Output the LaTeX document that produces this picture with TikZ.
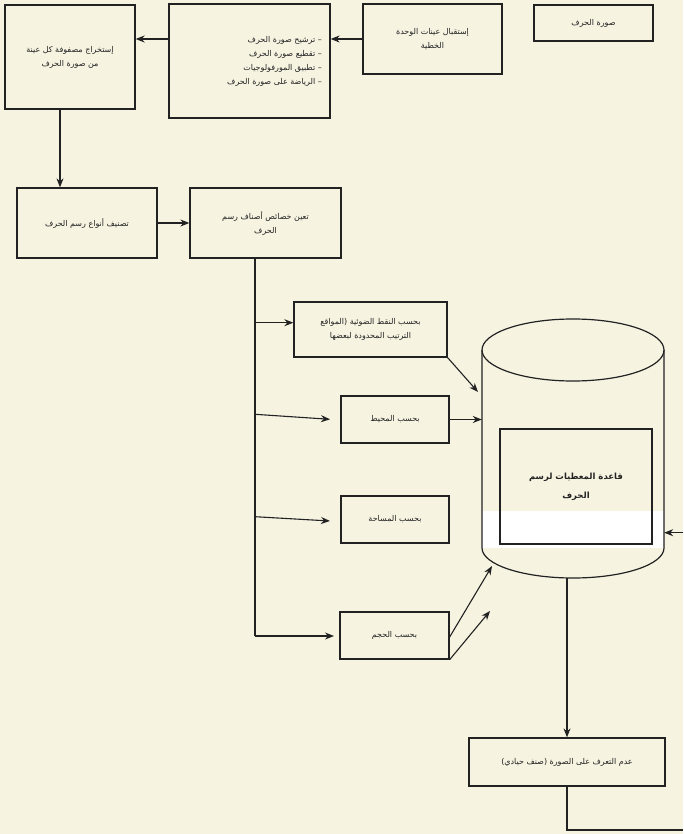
\documentclass[tikz,border=0pt]{standalone}
\usepackage{fontspec}
\usetikzlibrary{arrows.meta,calc}
\TeXXeTstate=1
\newfontfamily\arabicfont[Script=Arabic]{DejaVu Sans}
\newcommand\ar[1]{\beginR#1\endR}
\definecolor{bg}{RGB}{246,243,225}
\definecolor{ink}{RGB}{34,34,34}
\tikzset{
  box/.style={draw=ink, line width=1.3pt, fill=bg, inner sep=0pt, align=center,
    font=\arabicfont\fontsize{8}{14}\selectfont, text=ink},
  arr/.style={draw=ink, line width=1.1pt, -{Stealth[length=9pt,width=7pt]}},
  ln/.style={draw=ink, line width=1.1pt},
}
\begin{document}
\begin{tikzpicture}[x=1pt,y=-1pt]
\useasboundingbox (0,0) rectangle (683,834);
\fill[bg] (0,0) rectangle (683,834);

% top row
\node[box, minimum width=119pt, minimum height=36pt] (b1) at (593.5,23) {\ar{صورة الحرف}};
\node[box, minimum width=139pt, minimum height=70pt] (b2) at (432.5,39) {\ar{إستقبال عينات الوحدة}\\\ar{الخطية}};
\node[box, minimum width=161pt, minimum height=114pt] (b3) at (249.5,61) {};
\node[anchor=east, align=right, inner sep=0pt, text=ink,
      font=\arabicfont\fontsize{8}{14}\selectfont] (b3t) at (322,61)
  {\ar{– ترشيح صورة الحرف}\\\ar{– تقطيع صورة الحرف}\\\ar{– تطبيق المورفولوجيات}\\\ar{– الرياضة على صورة الحرف}};
\node[box, minimum width=130pt, minimum height=104pt] (b4) at (70,57) {\ar{إستخراج مصفوفة كل عينة}\\\ar{من صورة الحرف}};

% second row
\node[box, minimum width=140pt, minimum height=70pt] (b5) at (87,223) {\ar{تصنيف أنواع رسم الحرف}};
\node[box, minimum width=151pt, minimum height=70pt] (b6) at (265.5,223) {\ar{تعين خصائص أصناف رسم}\\\ar{الحرف}};

% criteria boxes
\node[box, minimum width=153pt, minimum height=55pt] (b7) at (370.5,329.5) {\ar{بحسب النقط الضوئية (المواقع}\\\ar{الترتيب المحدودة لبعضها}};
\node[box, minimum width=108pt, minimum height=47pt] (b8) at (395,419.5) {\ar{بحسب المحيط}};
\node[box, minimum width=108pt, minimum height=47pt] (b9) at (395,519.5) {\ar{بحسب المساحة}};
\node[box, minimum width=109pt, minimum height=47pt] (b10) at (394.5,635.5) {\ar{بحسب الحجم}};

% database cylinder
\node[minimum width=182pt, minimum height=259pt, inner sep=0pt] (db) at (573,448.5) {};
\fill[white] (482,511) rectangle (664,548);
\draw[ln, line width=1.2pt] (482,350) -- (482,548) arc[start angle=180, end angle=0, x radius=91, y radius=30] -- (664,350);
\draw[ln, line width=1.2pt] (573,350) ellipse [x radius=91, y radius=31];
\node[box, fill=none, minimum width=152pt, minimum height=115pt,
      font=\arabicfont\bfseries\fontsize{8.5}{19}\selectfont] (b11) at (576,486.5) {\ar{قاعدة المعطيات لرسم}\\\ar{الحرف}};

% bottom box
\node[box, minimum width=196pt, minimum height=48pt] (b12) at (567,762) {\ar{عدم التعرف على الصورة (صنف حيادي)}};

% connectors top
\draw[arr] (b2.west) -- (b3.east |- b2.west);
\draw[arr, line width=1.7pt] (b3.west |- b2.west) -- (b4.east |- b2.west);
\draw[arr] ([xshift=-10pt]b4.south) -- ([xshift=-10pt]b4.south |- b5.north);
\draw[arr] (b5.east) -- (b6.west);

% trunk and branches
\coordinate (tr) at (255,636);
\coordinate (br1) at (255,322.7);
\coordinate (br2) at (255,414.3);
\coordinate (e2) at (330,419.3);
\coordinate (br3) at (255,516.7);
\coordinate (e3) at (330,521);
\coordinate (e4) at (334,636);
\draw[ln] (b6.south -| tr) -- (tr);
\draw[arr] (br1) -- (br1 -| b7.west);
\draw[arr] (br2) -- (e2);
\draw[arr] (br3) -- (e3);
\draw[arr] (tr) -- (e4);

% into database
\coordinate (d1) at (478,392);
\coordinate (d3) at (492,566);
\coordinate (d4) at (490,611);
\draw[arr] (b7.south east) -- (d1);
\draw[arr] (b8.east) -- (b8.east -| db.west);
\draw[arr] ([yshift=-1.5pt]b10.east) -- (d3);
\draw[arr] (b10.south east) -- (d4);
\coordinate (rin) at (683,532.7);
\draw[arr] (rin) -- (rin -| db.east);

% out of database
\draw[arr] (db.south -| b12.north) -- (b12.north);
\coordinate (bout) at (683,830);
\draw[ln] (b12.south) |- (bout);
\end{tikzpicture}
\end{document}
